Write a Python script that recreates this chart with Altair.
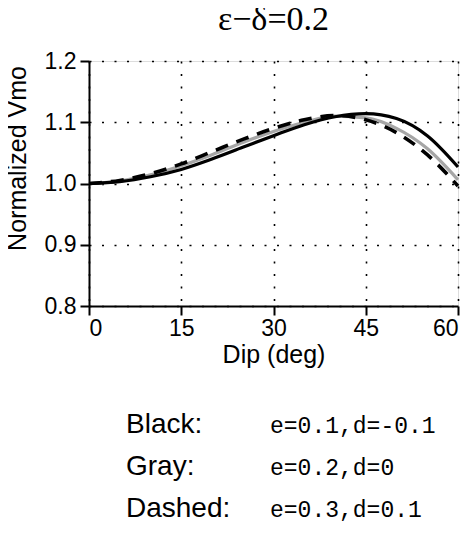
import altair as alt
import pandas as pd

dip = [0, 5, 10, 15, 20, 25, 30, 35, 40, 45, 50, 55, 60]
black = [1.000, 1.003, 1.011, 1.023, 1.040, 1.059, 1.078, 1.096, 1.109, 1.114, 1.106, 1.078, 1.027]
gray = [1.000, 1.004, 1.014, 1.029, 1.047, 1.067, 1.085, 1.100, 1.110, 1.107, 1.090, 1.057, 1.006]
dashed = [1.000, 1.005, 1.016, 1.032, 1.052, 1.072, 1.090, 1.104, 1.111, 1.104, 1.083, 1.047, 0.996]

x_ticks = [0, 15, 30, 45, 60]
y_ticks = [0.8, 0.9, 1.0, 1.1, 1.2]

legend_names = ["Black:", "Gray:", "Dashed:"]
legend_values = ["e=0.1,d=-0.1", "e=0.2,d=0", "e=0.3,d=0.1"]

n = len(dip)
df = pd.DataFrame({
    "dip": dip * 3,
    "v": black + gray + dashed,
    "series": ["Black"] * n + ["Gray"] * n + ["Dashed"] * n,
})
leg = pd.DataFrame({"name": legend_names, "value": legend_values, "row": [0, 1, 2]})

FONT = "Liberation Sans"

x_enc = alt.X(
    "dip:Q",
    scale=alt.Scale(domain=[0, 60], nice=False, zero=False),
    axis=alt.Axis(
        values=x_ticks, title="Dip (deg)", format="d",
        grid=True, gridColor="black", gridDash=[2, 10.5], gridWidth=1.6,
        domainColor="black", domainWidth=2, tickColor="black", tickWidth=2, tickSize=9,
        labelFont=FONT, labelFontSize=23, labelColor="black", labelPadding=2,
        titleFont=FONT, titleFontSize=25, titleFontWeight="normal", titleColor="black",
        titlePadding=2,
    ),
)
y_enc = alt.Y(
    "v:Q",
    scale=alt.Scale(domain=[0.8, 1.2], nice=False, zero=False),
    axis=alt.Axis(
        values=y_ticks, title="Normalized Vmo", format=".1f",
        grid=True, gridColor="black", gridDash=[2, 10.5], gridWidth=1.6,
        domainColor="black", domainWidth=2, tickColor="black", tickWidth=2, tickSize=9,
        labelFont=FONT, labelFontSize=23, labelColor="black", labelPadding=4,
        titleFont=FONT, titleFontSize=25, titleFontWeight="normal", titleColor="black",
        titleAngle=270, titleAlign="center", titleBaseline="middle",
        titleX=-72, titleY=97,
    ),
)

base = alt.Chart(df)

gray_line = base.transform_filter(alt.datum.series == "Gray").mark_line(
    color="#a6a6a6", strokeWidth=3.2, interpolate="monotone"
).encode(x=x_enc, y=y_enc)

black_line = base.transform_filter(alt.datum.series == "Black").mark_line(
    color="black", strokeWidth=3.2, interpolate="monotone"
).encode(x="dip:Q", y="v:Q")

dashed_line = base.transform_filter(alt.datum.series == "Dashed").mark_line(
    color="black", strokeWidth=3.6, strokeDash=[13, 9], interpolate="monotone"
).encode(x="dip:Q", y="v:Q")

row_scale = alt.Scale(type="point", range=[372, 456], padding=0)

leg_names = alt.Chart(leg).mark_text(
    align="left", baseline="alphabetic", font=FONT, fontSize=28, color="black"
).encode(
    x=alt.value(37),
    y=alt.Y("row:O", scale=row_scale, axis=None),
    text="name:N",
)
leg_vals = alt.Chart(leg).mark_text(
    align="left", baseline="alphabetic", font="Liberation Mono", fontSize=23, color="black"
).encode(
    x=alt.value(181),
    y=alt.Y("row:O", scale=row_scale, axis=None),
    text="value:N",
)

lines = alt.layer(gray_line, black_line, dashed_line)
chart = alt.layer(lines, leg_names, leg_vals).resolve_scale(y="independent").properties(
    width=369,
    height=245,
    title=alt.TitleParams(
        text="ε−δ=0.2", font="Liberation Serif", fontSize=34, fontWeight="normal",
        color="black", anchor="middle", offset=13,
    ),
    autosize=alt.AutoSizeParams(type="none"),
    padding={"left": 81, "top": 53, "right": 9, "bottom": 217},
).configure_view(stroke="black", strokeWidth=2).configure(background="white")

chart.save("out.html", embed_options={"renderer": "svg", "actions": False})
